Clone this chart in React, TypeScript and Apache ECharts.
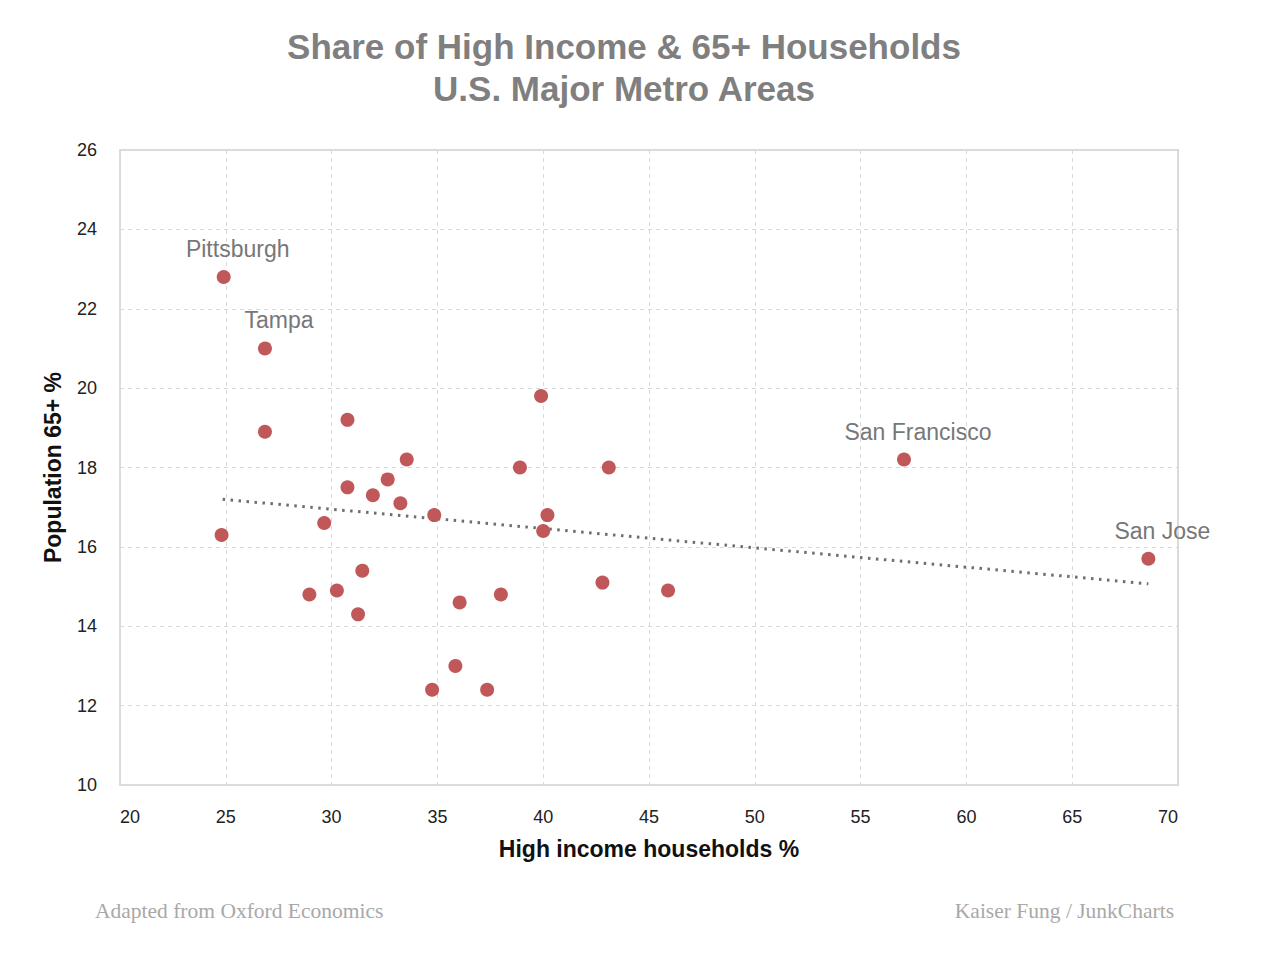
import React, { useEffect, useRef } from "react";
import * as echarts from "echarts";

const cityNames = ["Pittsburgh", "Tampa", "San Francisco", "San Jose"];
const labeledX = [24.9, 26.85, 57.05, 68.6];
const labeledY = [22.8, 21.0, 18.2, 15.7];

const otherX = [
  26.85, 30.75, 39.9, 33.55, 38.9, 43.1, 30.75, 32.65, 31.95, 33.25, 34.85, 40.2,
  40.0, 29.65, 24.8, 31.45, 28.95, 30.25, 31.25, 36.05, 38.0, 42.8, 45.9, 35.85,
  34.75, 37.35,
];
const otherY = [
  18.9, 19.2, 19.8, 18.2, 18.0, 18.0, 17.5, 17.7, 17.3, 17.1, 16.8, 16.8, 16.4,
  16.6, 16.3, 15.4, 14.8, 14.9, 14.3, 14.6, 14.8, 15.1, 14.9, 13.0, 12.4, 12.4,
];

const trendX = [24.85, 68.6];
const trendY = [17.2, 15.07];

const xTicks = [20, 70, 5];
const yTicks = [10, 26, 2];

const titleLines = ["Share of High Income & 65+ Households", "U.S. Major Metro Areas"];
const xName = "High income households %";
const yName = "Population 65+ %";
const sourceText = "Adapted from Oxford Economics";
const creditText = "Kaiser Fung / JunkCharts";

export default function App() {
  const ref = useRef<HTMLDivElement>(null);
  useEffect(() => {
    document.body.style.margin = "0";
    if (!ref.current) return;
    const chart = echarts.init(ref.current, undefined, { renderer: "svg" });
    const sans = "'Liberation Sans', Arial, Helvetica, sans-serif";
    const dotColor = "#c0585a";
    const labeled = labeledX.map((x, i) => ({ value: [x, labeledY[i]], name: cityNames[i] }));
    const others = otherX.map((x, i) => [x, otherY[i]]);
    chart.setOption({
      animation: false,
      backgroundColor: "#ffffff",
      textStyle: { fontFamily: sans },
      grid: { left: 120, right: 108, top: 150, bottom: 189, containLabel: false },
      xAxis: {
        type: "value",
        min: xTicks[0],
        max: xTicks[1],
        interval: xTicks[2],
        name: xName,
        nameLocation: "middle",
        nameGap: 52,
        nameTextStyle: { fontFamily: sans, fontSize: 23, fontWeight: "bold", color: "#111" },
        axisLine: { show: false },
        axisTick: { show: false },
        axisLabel: {
          fontFamily: sans,
          fontSize: 18,
          color: "#222",
          margin: 23,
          alignMinLabel: "left",
          alignMaxLabel: "right",
        },
        splitLine: { show: true, lineStyle: { color: "#d9d9d9", type: [4, 4], width: 1 } },
      },
      yAxis: {
        type: "value",
        min: yTicks[0],
        max: yTicks[1],
        interval: yTicks[2],
        name: yName,
        nameLocation: "middle",
        nameGap: 56,
        nameTextStyle: { fontFamily: sans, fontSize: 23, fontWeight: "bold", color: "#111" },
        axisLine: { show: false },
        axisTick: { show: false },
        axisLabel: { fontFamily: sans, fontSize: 18, color: "#222", margin: 23 },
        splitLine: { show: true, lineStyle: { color: "#d9d9d9", type: [4, 4], width: 1 } },
      },
      graphic: [
        {
          type: "text",
          x: 624,
          y: 46,
          style: {
            text: titleLines[0],
            fill: "#7f7f7f",
            font: "bold 35px 'Liberation Sans', Arial, sans-serif",
            textAlign: "center",
            textVerticalAlign: "middle",
          },
        },
        {
          type: "text",
          x: 624,
          y: 88,
          style: {
            text: titleLines[1],
            fill: "#7f7f7f",
            font: "bold 35px 'Liberation Sans', Arial, sans-serif",
            textAlign: "center",
            textVerticalAlign: "middle",
          },
        },
        {
          type: "rect",
          shape: { x: 120, y: 150, width: 1058, height: 635 },
          style: { fill: "none", stroke: "#dcdcdc", lineWidth: 2 },
          z: 0,
        },
        {
          type: "text",
          x: 95,
          y: 911,
          style: {
            text: sourceText,
            fill: "#a8a8a8",
            font: "21.5px 'Liberation Serif', 'Times New Roman', serif",
            textAlign: "left",
            textVerticalAlign: "middle",
          },
        },
        {
          type: "text",
          x: 1174,
          y: 911,
          style: {
            text: creditText,
            fill: "#a8a8a8",
            font: "21.5px 'Liberation Serif', 'Times New Roman', serif",
            textAlign: "right",
            textVerticalAlign: "middle",
          },
        },
      ],
      series: [
        {
          type: "line",
          data: trendX.map((x, i) => [x, trendY[i]]),
          symbol: "none",
          lineStyle: { color: "#6e6e6e", width: 3, type: [2.5, 5.5] },
          z: 2,
        },
        {
          type: "scatter",
          data: others,
          symbolSize: 14,
          itemStyle: { color: dotColor, opacity: 1 },
          z: 3,
        },
        {
          type: "scatter",
          data: labeled,
          symbolSize: 14,
          itemStyle: { color: dotColor, opacity: 1 },
          label: {
            show: true,
            position: "top",
            formatter: "{b}",
            offset: [14, -4.5],
            fontFamily: sans,
            fontSize: 23,
            color: "#777777",
          },
          z: 3,
        },
      ],
    });
    return () => chart.dispose();
  }, []);
  return <div ref={ref} style={{ width: 1286, height: 974 }} />;
}
